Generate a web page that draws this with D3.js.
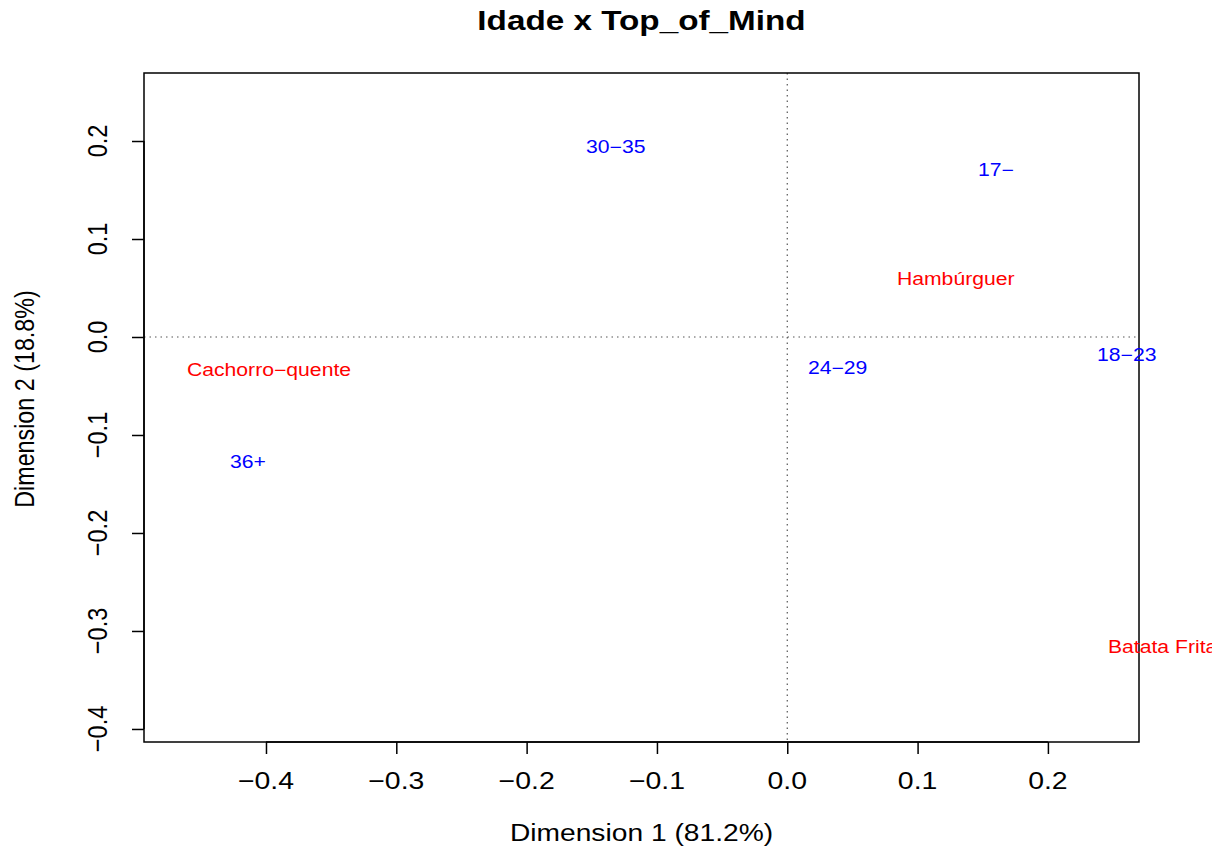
<!DOCTYPE html>
<html><head><meta charset="utf-8">
<script src="https://cdn.jsdelivr.net/npm/d3@7"></script>
<style>body{margin:0;background:#fff}svg{display:block}text{font-family:"Liberation Sans",Arial,Helvetica,sans-serif}</style>
</head><body>
<script>
const title = "Idade x Top_of_Mind";
const xLabel = "Dimension 1 (81.2%)";
const yLabel = "Dimension 2 (18.8%)";
const rowLabels = ["17-", "18-23", "24-29", "30-35", "36+"];
const rowX = [0.141, 0.2323, 0.0105, -0.1598, -0.433];
const rowY = [0.1704, -0.0184, -0.0316, 0.1939, -0.1276];
const colLabels = ["Batata Frita", "Cachorro-quente", "Hambúrguer"];
const colX = [0.2407, -0.466, 0.0788];
const colY = [-0.3163, -0.0337, 0.0592];
const xTicks = [-0.4, -0.3, -0.2, -0.1, 0.0, 0.1, 0.2];
const yTicks = [-0.4, -0.3, -0.2, -0.1, 0.0, 0.1, 0.2];

const W = 1220, H = 846, SX = 1.21;
const L = 144, R = 1139, T = 73, B = 742;
const svg = d3.select("body").append("svg").attr("width", W).attr("height", H);
const x = d3.scaleLinear().domain([-0.4936, 0.2699]).range([L, R]);
const y = d3.scaleLinear().domain([-0.4133, 0.2694]).range([B, T]);
const fmt = d => d === 0 ? "0.0" : d3.format(".1f")(d).replace("-", "\u2212");

function stext(px, py, str, size, opts = {}) {
  const g = svg.append("g").attr("transform", `translate(${px},${py}) scale(${SX},1)` + (opts.rot ? ` rotate(${opts.rot})` : ""));
  return g.append("text").attr("x", 0).attr("y", 0).attr("dy", "0.35em")
    .attr("text-anchor", opts.anchor || "middle")
    .attr("font-size", size).attr("font-weight", opts.bold ? "bold" : "normal")
    .attr("fill", opts.fill || "#000").text(str);
}

svg.append("defs").append("clipPath").attr("id", "dev").append("rect").attr("x", 0).attr("y", 0).attr("width", 1212).attr("height", H);

// reference lines
svg.append("line").attr("x1", x(0)).attr("x2", x(0)).attr("y1", T).attr("y2", B)
  .attr("stroke", "#555").attr("stroke-width", 1.2).attr("stroke-dasharray", "1.5,4");
svg.append("line").attr("x1", L).attr("x2", R).attr("y1", y(0)).attr("y2", y(0))
  .attr("stroke", "#555").attr("stroke-width", 1.2).attr("stroke-dasharray", "1.5,4");

// axes
const xAxis = d3.axisBottom(x).tickValues(xTicks).tickSize(12).tickFormat("");
const gx = svg.append("g").attr("transform", `translate(0,${B})`).call(xAxis);
gx.select(".domain").attr("d", `M${x(-0.4)},0H${x(0.2)}`);
const yAxis = d3.axisLeft(y).tickValues(yTicks).tickSize(12).tickFormat("");
const gy = svg.append("g").attr("transform", `translate(${L},0)`).call(yAxis);
gy.select(".domain").attr("d", `M0,${y(-0.4)}V${y(0.2)}`);
svg.selectAll(".tick line, .domain").attr("stroke", "#000").attr("stroke-width", 1.5);

xTicks.forEach(t => stext(x(t), 781, fmt(t), 23.5));
yTicks.forEach(t => stext(97, y(t), fmt(t), 23.5, {rot: -90}));

// box
svg.append("rect").attr("x", L).attr("y", T).attr("width", R - L).attr("height", B - T)
  .attr("fill", "none").attr("stroke", "#000").attr("stroke-width", 1.5);

// point labels
const lab = svg.append("g").attr("clip-path", "url(#dev)");
function ptext(px, py, str, color) {
  lab.append("g").attr("transform", `translate(${px + 7},${py}) scale(${SX},1)`)
    .append("text").attr("dy", "0.35em").attr("text-anchor", "start")
    .attr("font-size", 17.5).attr("fill", color).text(str.replace(/-/g, "\u2212"));
}
rowLabels.forEach((s, i) => ptext(x(rowX[i]), y(rowY[i]), s, "#0000FF"));
colLabels.forEach((s, i) => ptext(x(colX[i]), y(colY[i]), s, "#FF0000"));

// titles
stext((L + R) / 2, 20, title, 27.5, {bold: true});
stext((L + R) / 2, 833, xLabel, 23.3);
stext(24, 399, yLabel, 23.3, {rot: -90});
</script>
</body></html>
